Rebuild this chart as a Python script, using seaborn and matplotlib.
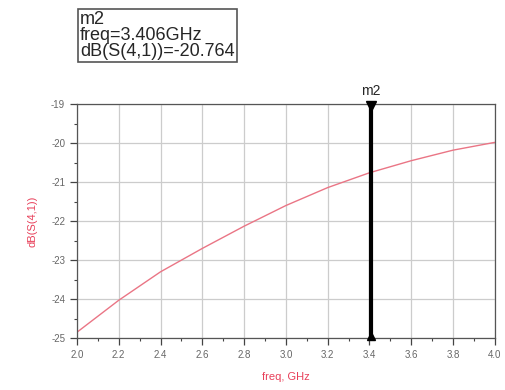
import numpy as np
import pandas as pd
import matplotlib
matplotlib.use('Agg')
import matplotlib.pyplot as plt
import seaborn as sns
from matplotlib.ticker import MultipleLocator

# data
freq = [2.0, 2.2, 2.4, 2.6, 2.8, 3.0, 3.2, 3.4, 3.6, 3.8, 4.0]
s41_db = [-24.85, -24.03, -23.30, -22.70, -22.13, -21.60, -21.14, -20.76, -20.45, -20.18, -19.98]
marker_freq = 3.406
marker_val = -20.764

df = pd.DataFrame({'freq': freq, 'dB': s41_db})

sns.set_style('white')
plt.rcParams['font.family'] = ['Liberation Sans', 'DejaVu Sans']

fig = plt.figure(figsize=(5.06, 3.9), dpi=100)
ax = fig.add_axes([0.152, 0.133, 0.826, 0.600])

sns.lineplot(data=df, x='freq', y='dB', ax=ax, color='#ea7585', linewidth=1.0)

ax.set_xlim(2.0, 4.0)
ax.set_ylim(-25, -19)
ax.xaxis.set_major_locator(MultipleLocator(0.2))
ax.xaxis.set_minor_locator(MultipleLocator(0.1))
ax.yaxis.set_major_locator(MultipleLocator(1))
ax.yaxis.set_minor_locator(MultipleLocator(0.5))
ax.xaxis.set_major_formatter(matplotlib.ticker.FormatStrFormatter('%.1f'))
ax.yaxis.set_major_formatter(matplotlib.ticker.FormatStrFormatter('%d'))
ax.grid(True, which='major', color='#cccccc', linewidth=0.9)
ax.tick_params(which='major', direction='out', length=5, width=0.9, color='#444444',
               labelsize=7, labelcolor='#666666', bottom=True, left=True)
ax.tick_params(which='minor', direction='out', length=2.5, width=0.8, color='#444444',
               bottom=True, left=True)
for sp in ax.spines.values():
    sp.set_color('#555555')
    sp.set_linewidth(0.9)

ax.set_xlabel('freq, GHz', color='#e8405a', fontsize=8, labelpad=9)
ax.set_ylabel('dB(S(4,1))', color='#e8405a', fontsize=8, labelpad=10)

# marker m2
ax.axvline(marker_freq, color='black', linewidth=3, zorder=5)
ax.plot([marker_freq], [-19.05], marker='v', color='black', markersize=7,
        clip_on=False, zorder=6)
ax.plot([marker_freq], [-24.95], marker='^', color='black', markersize=6,
        clip_on=False, zorder=6)
ax.text(marker_freq, -18.85, 'm2', ha='center', va='bottom', fontsize=10)

fig.text(0.158, 0.972,
         f'm2\nfreq={marker_freq:.3f}GHz\ndB(S(4,1))={marker_val:.3f}',
         ha='left', va='top', fontsize=13, linespacing=0.92,
         bbox=dict(boxstyle='square,pad=0.12', facecolor='white',
                   edgecolor='#555555', linewidth=1.2))

fig.savefig('out.png', dpi=100)
